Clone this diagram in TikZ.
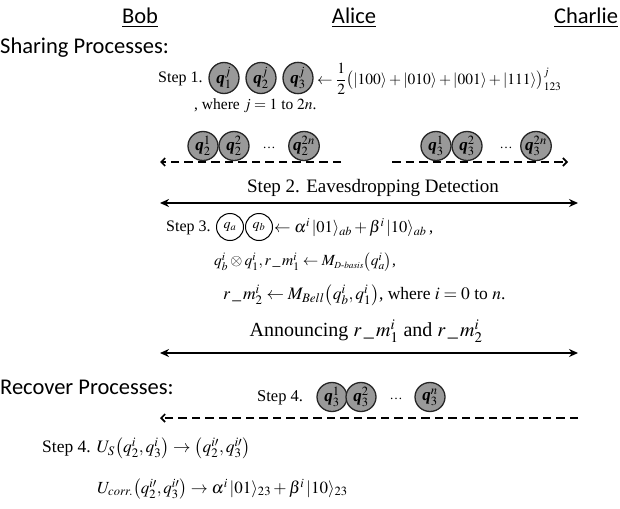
\documentclass[tikz,border=0pt]{standalone}
\usepackage{amsmath}
\usepackage{graphicx}
\usepackage{mathptmx}
\usepackage[no-math]{fontspec}
\setmainfont{Liberation Serif}
\newfontfamily\hdrfont{Carlito}
\newcommand{\qq}{\textbf{\textit{q}}}
\usetikzlibrary{arrows.meta,shapes.geometric}
\tikzset{
  hdr/.style={font=\hdrfont\fontsize{22.5}{24}\selectfont, inner sep=0pt},
  txt/.style={font=\fontsize{16.5}{19}\selectfont, inner sep=0pt},
  bigtxt/.style={font=\fontsize{19}{22}\selectfont, inner sep=0pt},
  qbit/.style={ellipse, draw=black!85, line width=1.3pt, fill=black!40, minimum width=30pt, minimum height=29pt, inner sep=0pt, font=\fontsize{17}{19}\selectfont},
  wbit/.style={ellipse, draw=black, line width=1pt, fill=white, minimum width=27pt, minimum height=27pt, inner sep=0pt, font=\fontsize{14}{16}\selectfont},
  dots/.style={inner sep=0pt, font=\fontsize{13}{15}\selectfont},
  dline/.style={line width=2pt, dash pattern=on 8.5pt off 5pt, -{Straight Barb[length=4pt,width=8pt,line width=1.6pt]}},
  sline/.style={line width=1.8pt, {Stealth[length=9pt,width=8pt]}-{Stealth[length=9pt,width=8pt]}}
}
\begin{document}
\begin{tikzpicture}[x=1pt,y=-1pt]
\useasboundingbox (0,0) rectangle (620,508);
% headers
\node[hdr] (bob) at (140,18) {\underline{Bob}};
\node[hdr] (alice) at (354,18) {\underline{Alice}};
\node[hdr] (charlie) at (586,18) {\underline{Charlie}};
\node[hdr, anchor=west] (share) at (0,48) {Sharing Processes:};
% step 1
\node[txt, anchor=west] (s1) at (158,79) {\fontsize{16}{19}\selectfont Step 1.};
\node[qbit] (q1) at (224,78) {$\qq_1^j$};
\node[qbit] (q2) at (261,78) {$\qq_2^j$};
\node[qbit] (q3) at (298,78) {$\qq_3^j$};
\node[anchor=west, inner sep=0pt, font=\fontsize{15.5}{18}\selectfont] (s1eq) at (317,79) {$\leftarrow\dfrac{1}{2}\bigl(|100\rangle+|010\rangle+|001\rangle+|111\rangle\bigr)_{123}^{j}$};
\node[txt, anchor=west] (where) at (194,106) {\fontsize{15.5}{18}\selectfont, where $j=1$ to $2n$.};
% row of qubits
\node[qbit] (a1) at (203,146) {$\qq_2^1$};
\node[qbit] (a2) at (234,146) {$\qq_2^2$};
\node[dots] (ad) at (269,148) {\dots};
\node[qbit] (a3) at (304,146) {$\qq_2^{2n}$};
\node[qbit] (b1) at (436,146) {$\qq_3^1$};
\node[qbit] (b2) at (467,146) {$\qq_3^2$};
\node[dots] (bd) at (506,148) {\dots};
\node[qbit] (b3) at (536,146) {$\qq_3^{2n}$};
\coordinate (dl1) at (341,162);
\coordinate (dl2) at (160,162);
\coordinate (dr1) at (392,162);
\coordinate (dr2) at (568,162);
\draw[dline] (dl1) -- (dl2);
\draw[dline] (dr1) -- (dr2);
% step 2
\node[bigtxt] (s2) at (373,188) {Step 2. Eavesdropping Detection};
\coordinate (e1) at (160,203);
\coordinate (e2) at (578,203);
\draw[sline] (e1) -- (e2);
% step 3
\node[txt, anchor=west] (s3) at (166,228) {\fontsize{16}{19}\selectfont Step 3.};
\node[wbit] (qa) at (230,227) {$q_a$};
\node[wbit] (qb) at (259,227) {$q_b$};
\node[txt, anchor=west] (s3eq) at (274,228) {$\leftarrow\alpha^i\,|01\rangle_{ab}+\beta^i\,|10\rangle_{ab}$\,,};
\node[txt, anchor=west] (s3b) at (214,262) {\fontsize{15.5}{18}\selectfont$q_b^i\otimes q_1^i, r\,\_\,m_1^i \leftarrow M_{\scriptscriptstyle D\text{-}basis}\bigl(q_a^i\bigr)$,};
\node[txt, anchor=west] (s3c) at (223,295) {\fontsize{17.5}{20}\selectfont$r\,\_\,m_2^i \leftarrow M_{Bell}\bigl(q_b^i, q_1^i\bigr)$, where $i=0$ to $n$.};
% announcing
\node[bigtxt] (ann) at (366,331) {\fontsize{20}{23}\selectfont Announcing $r\,\_\,m_1^i$ and $r\,\_\,m_2^i$};
\coordinate (f1) at (160,353);
\coordinate (f2) at (578,353);
\draw[sline] (f1) -- (f2);
% recover
\node[hdr, anchor=west] (rec) at (0,387) {Recover Processes:};
\node[txt, anchor=west] (s4) at (257,398) {Step 4.};
\node[qbit] (c1) at (332,397) {$\qq_3^1$};
\node[qbit] (c2) at (361,397) {$\qq_3^2$};
\node[dots] (cd) at (396,399) {\dots};
\node[qbit] (c3) at (430,397) {$\qq_3^n$};
\coordinate (g1) at (578,418);
\coordinate (g2) at (160,418);
\draw[dline] (g1) -- (g2);
% step 4 equations
\node[txt, anchor=west] (s4a) at (42,448) {\fontsize{17.5}{20}\selectfont Step 4. $U_S\bigl(q_2^i,q_3^i\bigr)\rightarrow\bigl(q_2^{i\prime},q_3^{i\prime}\bigr)$};
\node[txt, anchor=west] (s4b) at (97,489) {\fontsize{17}{20}\selectfont$U_{corr.}\bigl(q_2^{i\prime},q_3^{i\prime}\bigr)\rightarrow\alpha^i\,|01\rangle_{23}+\beta^i\,|10\rangle_{23}$};
\end{tikzpicture}
\end{document}
